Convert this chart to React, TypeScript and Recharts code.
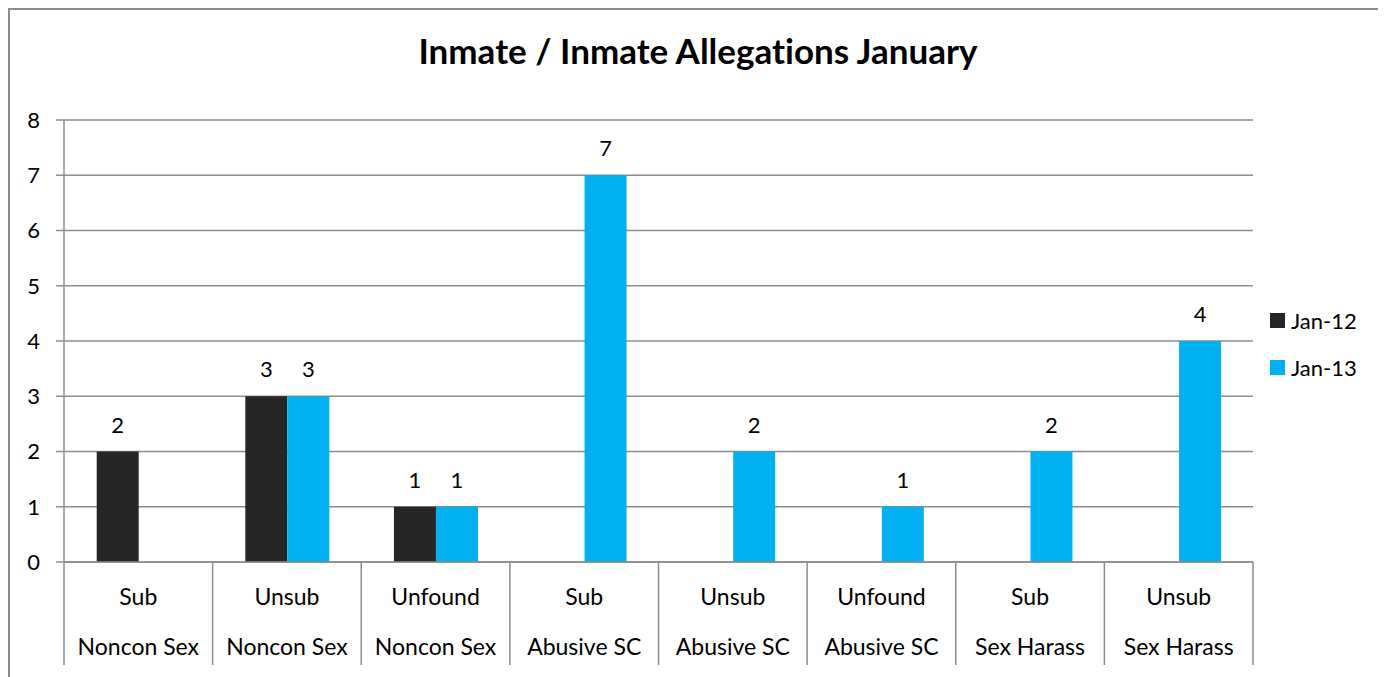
import { BarChart, Bar, XAxis, YAxis, CartesianGrid, LabelList } from 'recharts';

const subLabels = ['Sub', 'Unsub', 'Unfound', 'Sub', 'Unsub', 'Unfound', 'Sub', 'Unsub'];
const groupLabels = [
  'Noncon Sex', 'Noncon Sex', 'Noncon Sex',
  'Abusive SC', 'Abusive SC', 'Abusive SC',
  'Sex Harass', 'Sex Harass',
];
const jan12 = [2, 3, 1, null, null, null, null, null];
const jan13 = [null, 3, 1, 7, 2, 1, 2, 4];
const yTicks = [0, 1, 2, 3, 4, 5, 6, 7, 8];

const series = [
  { key: 'jan12', name: 'Jan-12', color: '#262626' },
  { key: 'jan13', name: 'Jan-13', color: '#00B0F0' },
];

const data = subLabels.map((s, i) => ({
  cat: `${s}|${groupLabels[i]}`,
  sub: s,
  group: groupLabels[i],
  jan12: jan12[i],
  jan13: jan13[i],
}));

const FONT = 'Lato, "Open Sans", sans-serif';
const GRID = '#8c8c8c';

const CategoryTick = (props: any) => {
  const { x, y, payload, index } = props;
  const half = payload?.offset ?? 74.3;
  const isLast = index === data.length - 1;
  return (
    <g>
      <line x1={x - half} y1={y} x2={x - half} y2={y + 103} stroke={GRID} strokeWidth={1.5} />
      {isLast && <line x1={x + half} y1={y} x2={x + half} y2={y + 103} stroke={GRID} strokeWidth={1.5} />}
      <text x={x} y={y + 43} textAnchor="middle" fontSize={23} fill="#000" fontFamily={FONT}>
        {data[index]?.sub}
      </text>
      <text x={x} y={y + 93} textAnchor="middle" fontSize={23} fill="#000" fontFamily={FONT}>
        {data[index]?.group}
      </text>
    </g>
  );
};

const ValueLabel = (props: any) => {
  const { x, y, width, value } = props;
  if (value === null || value === undefined) return null;
  return (
    <text x={x + width / 2} y={y - 19} textAnchor="middle" fontSize={22} fill="#000" fontFamily={FONT}>
      {value}
    </text>
  );
};

const App = () => {
  return (
    <div
      style={{
        position: 'relative',
        width: 1378,
        height: 669,
        boxSizing: 'border-box',
        borderTop: `2px solid ${GRID}`,
        borderLeft: `2px solid ${GRID}`,
        fontFamily: FONT,
        background: '#fff',
      }}
    >
      <div
        style={{
          position: 'absolute',
          left: 0,
          top: 23,
          width: 1376,
          textAlign: 'center',
          fontSize: 35,
          lineHeight: '35px',
          fontWeight: 700,
          color: '#000',
          fontVariantLigatures: 'none',
        }}
      >
        Inmate / Inmate Allegations January
      </div>
      <BarChart
        width={1376}
        height={667}
        data={data}
        margin={{ top: 110, right: 133, bottom: 10, left: 0 }}
        barCategoryGap="22%"
        barGap={0}
      >
        <CartesianGrid vertical={false} stroke={GRID} strokeWidth={1.5} />
        <XAxis
          dataKey="cat"
          interval={0}
          height={105}
          tickSize={0}
          tickMargin={0}
          tickLine={false}
          axisLine={{ stroke: GRID, strokeWidth: 1.5 }}
          tick={<CategoryTick />}
        />
        <YAxis
          width={54}
          domain={[0, 8]}
          ticks={yTicks}
          interval={0}
          tickSize={8}
          tickMargin={16}
          axisLine={{ stroke: GRID, strokeWidth: 1.5 }}
          tickLine={{ stroke: GRID, strokeWidth: 1.5 }}
          tick={{ fill: '#000', fontSize: 22, fontFamily: FONT }}
        />
        {series.map((s) => (
          <Bar key={s.key} dataKey={s.key} name={s.name} fill={s.color} isAnimationActive={false}>
            <LabelList dataKey={s.key} content={<ValueLabel />} />
          </Bar>
        ))}
      </BarChart>
      <div style={{ position: 'absolute', left: 1260, top: 287 }}>
        {series.map((s) => (
          <div key={s.key} style={{ display: 'flex', alignItems: 'center', height: 47 }}>
            <span style={{ width: 15, height: 15, background: s.color, marginRight: 6 }} />
            <span style={{ fontSize: 22, color: '#000' }}>{s.name}</span>
          </div>
        ))}
      </div>
    </div>
  );
};

export default App;
